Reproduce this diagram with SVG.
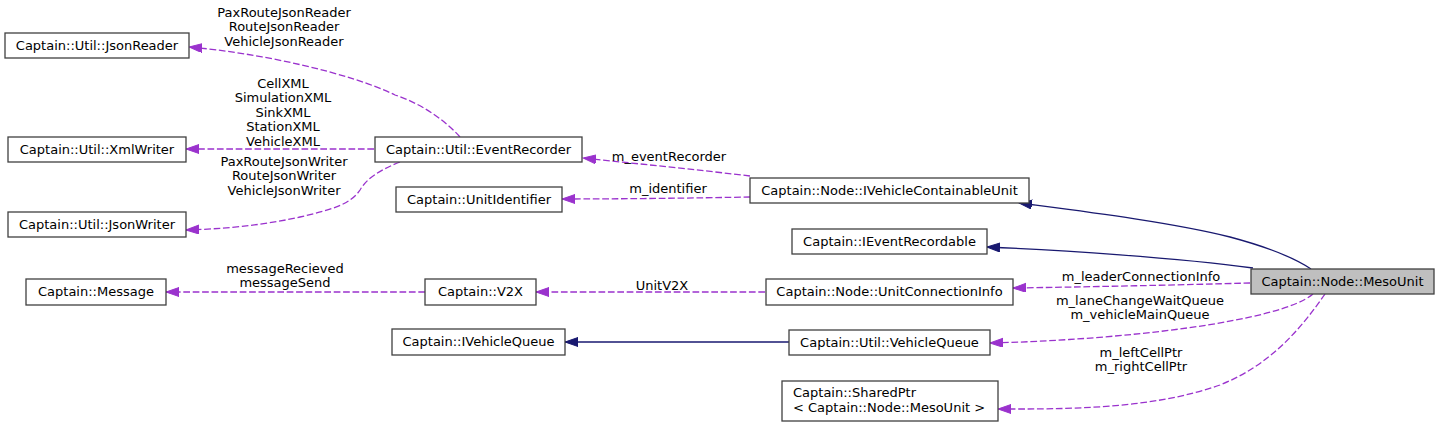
<svg xmlns="http://www.w3.org/2000/svg" width="1440" height="427" viewBox="0 0 1440 427">
<style>
text{font-family:"DejaVu Sans","Liberation Sans",sans-serif;font-size:13px;fill:#000}
.c{text-anchor:middle}
.box{fill:#fff;stroke:#404040;stroke-width:1.3}
.root{fill:#bfbfbf;stroke:#404040;stroke-width:1.3}
.inh{fill:none;stroke:#191970;stroke-width:1.3;marker-end:url(#ab)}
.use{fill:none;stroke:#9a32cd;stroke-width:1.3;stroke-dasharray:6.7,2.7;marker-end:url(#ap)}
</style>
<defs>
<marker id="ab" markerUnits="userSpaceOnUse" markerWidth="14" markerHeight="10" refX="13" refY="4.5" orient="auto"><path d="M0,0 L13,4.5 L0,9 Z" fill="#191970" stroke="#191970" stroke-width="1"/></marker>
<marker id="ap" markerUnits="userSpaceOnUse" markerWidth="14" markerHeight="10" refX="13" refY="4.5" orient="auto"><path d="M0,0 L13,4.5 L0,9 Z" fill="#9a32cd" stroke="#9a32cd" stroke-width="1"/></marker>
</defs>
<rect width="1440" height="427" fill="#fff"/>
<g id="edges">
<path class="inh" d="M1311,269 C1290,255 1260,245 1230,237 C1170,222 1080,211 1019,203"/>
<path class="inh" d="M1253,268 C1180,258 1060,250 987,247"/>
<path class="inh" d="M789,342 L565,342"/>
<path class="use" d="M1250,283 C1180,285 1080,287 1013,288"/>
<path class="use" d="M1313,294 C1280,322 1120,340 990,343"/>
<path class="use" d="M1325,294 C1300,330 1270,365 1220,385 C1150,410 1060,409 998,409"/>
<path class="use" d="M750,176 C700,170 640,164 583,158"/>
<path class="use" d="M750,197 C700,198 620,199 562,199"/>
<path class="use" d="M765,292 L536,292"/>
<path class="use" d="M425,292 L166,292"/>
<path class="use" d="M460,137 C445,120 420,103 395,95 C350,73 260,53 189,47"/>
<path class="use" d="M374,149 L186,149"/>
<path class="use" d="M400,162 C380,170 367,178 360,190 C350,205 330,210 300,217 C260,226 220,229 186,230"/>
<text class="c" x="284" y="16.5">PaxRouteJsonReader</text>
<text class="c" x="284" y="31">RouteJsonReader</text>
<text class="c" x="284" y="45.5">VehicleJsonReader</text>
<text class="c" x="283" y="87.5">CellXML</text>
<text class="c" x="283" y="102">SimulationXML</text>
<text class="c" x="283" y="116.5">SinkXML</text>
<text class="c" x="283" y="131">StationXML</text>
<text class="c" x="283" y="145.5">VehicleXML</text>
<text class="c" x="284" y="165.5">PaxRouteJsonWriter</text>
<text class="c" x="284" y="180">RouteJsonWriter</text>
<text class="c" x="284" y="194.5">VehicleJsonWriter</text>
<text class="c" x="669" y="160.5">m_eventRecorder</text>
<text class="c" x="668" y="192.5">m_identifier</text>
<text class="c" x="662" y="289.5">UnitV2X</text>
<text class="c" x="285" y="272.5">messageRecieved</text>
<text class="c" x="285" y="287">messageSend</text>
<text class="c" x="1141" y="281">m_leaderConnectionInfo</text>
<text class="c" x="1140" y="304.5">m_laneChangeWaitQueue</text>
<text class="c" x="1140" y="319">m_vehicleMainQueue</text>
<text class="c" x="1141" y="356.5">m_leftCellPtr</text>
<text class="c" x="1141" y="371">m_rightCellPtr</text>
</g>
<g id="MesoUnit"><rect class="root" x="1251" y="269" width="183" height="25"/><text class="c" x="1342.5" y="285.5">Captain::Node::MesoUnit</text></g>
<g id="IVehicleContainableUnit"><rect class="box" x="750" y="178" width="279" height="25"/><text class="c" x="889.5" y="194.5">Captain::Node::IVehicleContainableUnit</text></g>
<g id="IEventRecordable"><rect class="box" x="792" y="229" width="195" height="25"/><text class="c" x="889.5" y="245.5">Captain::IEventRecordable</text></g>
<g id="UnitConnectionInfo"><rect class="box" x="766" y="279" width="247" height="26"/><text class="c" x="889.5" y="296">Captain::Node::UnitConnectionInfo</text></g>
<g id="VehicleQueue"><rect class="box" x="789" y="330" width="201" height="25"/><text class="c" x="889.5" y="346.5">Captain::Util::VehicleQueue</text></g>
<g id="SharedPtr"><rect class="box" x="782" y="381" width="216" height="40"/><text x="793" y="397">Captain::SharedPtr</text><text x="793" y="412">&lt; Captain::Node::MesoUnit &gt;</text></g>
<g id="EventRecorder"><rect class="box" x="375" y="137" width="207" height="25"/><text class="c" x="478.5" y="153.5">Captain::Util::EventRecorder</text></g>
<g id="UnitIdentifier"><rect class="box" x="396" y="187" width="166" height="25"/><text class="c" x="479" y="203.5">Captain::UnitIdentifier</text></g>
<g id="V2X"><rect class="box" x="425" y="279" width="111" height="26"/><text class="c" x="480.5" y="296">Captain::V2X</text></g>
<g id="IVehicleQueue"><rect class="box" x="392" y="329" width="173" height="26"/><text class="c" x="478.5" y="346">Captain::IVehicleQueue</text></g>
<g id="JsonReader"><rect class="box" x="5" y="33" width="184" height="25"/><text class="c" x="97" y="49.5">Captain::Util::JsonReader</text></g>
<g id="XmlWriter"><rect class="box" x="8" y="137" width="178" height="25"/><text class="c" x="97" y="153.5">Captain::Util::XmlWriter</text></g>
<g id="JsonWriter"><rect class="box" x="8" y="212" width="178" height="25"/><text class="c" x="97" y="228.5">Captain::Util::JsonWriter</text></g>
<g id="Message"><rect class="box" x="26" y="279" width="140" height="26"/><text class="c" x="96" y="296">Captain::Message</text></g>
</svg>
